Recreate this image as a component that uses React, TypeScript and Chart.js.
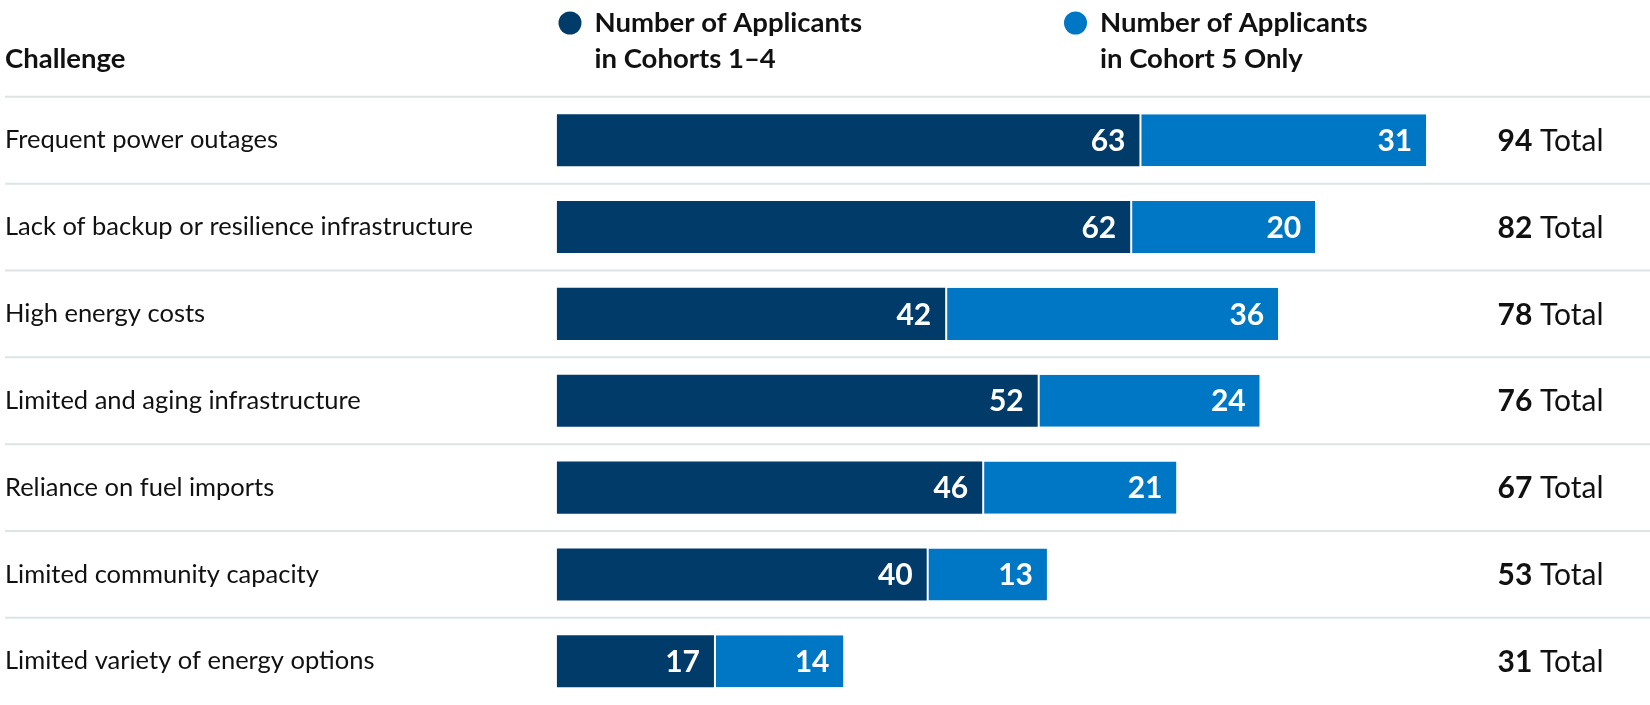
import { useEffect, useRef } from 'react';
import { Chart, registerables } from 'chart.js';
Chart.register(...registerables);

const challenges = [
  'Frequent power outages',
  'Lack of backup or resilience infrastructure',
  'High energy costs',
  'Limited and aging infrastructure',
  'Reliance on fuel imports',
  'Limited community capacity',
  'Limited variety of energy options',
];
const cohorts14 = [63, 62, 42, 52, 46, 40, 17];
const cohort5 = [31, 20, 36, 24, 21, 13, 14];
const legendCohorts14 = ['Number of Applicants', 'in Cohorts 1–4'];
const legendCohort5 = ['Number of Applicants', 'in Cohort 5 Only'];
const headerText = 'Challenge';
const totalWord = 'Total';

const DARK = '#003b6a';
const LIGHT = '#0077c4';
const TEXT = '#111111';
const FONT = 'Lato';

const W = 1650;
const H = 720;

export default function App() {
  const ref = useRef<HTMLCanvasElement | null>(null);
  useEffect(() => {
    if (!ref.current) return;
    const overlay = {
      id: 'overlay',
      beforeDatasetsDraw(chart: any) {
        const ctx = chart.ctx;
        const y = chart.scales.y;
        const band = Math.abs(y.getPixelForValue(1) - y.getPixelForValue(0));
        ctx.save();
        ctx.strokeStyle = '#dfe3e6';
        ctx.lineWidth = 2;
        for (let i = 0; i < challenges.length; i++) {
          const yy = y.getPixelForValue(i) - band / 2;
          ctx.beginPath();
          ctx.moveTo(5, yy);
          ctx.lineTo(W, yy);
          ctx.stroke();
        }
        // header
        ctx.fillStyle = TEXT;
        ctx.textBaseline = 'middle';
        ctx.textAlign = 'left';
        ctx.font = `bold 27.5px ${FONT}`;
        ctx.fillText(headerText, 5, 59);
        // legend
        const items = [
          { c: DARK, x: 570, lines: legendCohorts14 },
          { c: LIGHT, x: 1075.5, lines: legendCohort5 },
        ];
        items.forEach((it) => {
          ctx.fillStyle = it.c;
          ctx.beginPath();
          ctx.arc(it.x, 23, 11.5, 0, Math.PI * 2);
          ctx.fill();
          ctx.fillStyle = TEXT;
          ctx.fillText(it.lines[0], it.x + 24.5, 23);
          ctx.fillText(it.lines[1], it.x + 24.5, 59);
        });
        ctx.restore();
      },
      afterDatasetsDraw(chart: any) {
        const ctx = chart.ctx;
        ctx.save();
        ctx.textBaseline = 'middle';
        ctx.textAlign = 'right';
        ctx.fillStyle = '#ffffff';
        ctx.font = `bold 30px ${FONT}`;
        chart.data.datasets.forEach((ds: any, di: number) => {
          const meta = chart.getDatasetMeta(di);
          meta.data.forEach((bar: any, i: number) => {
            ctx.fillText(String(ds.data[i]), bar.x - 14, bar.y + 1);
          });
        });
        // totals
        const y = chart.scales.y;
        ctx.textAlign = 'left';
        ctx.fillStyle = TEXT;
        for (let i = 0; i < challenges.length; i++) {
          const total = cohorts14[i] + cohort5[i];
          const py = y.getPixelForValue(i) + 1;
          ctx.font = `bold 30px ${FONT}`;
          const t = String(total);
          ctx.fillText(t, 1497.5, py);
          const w = ctx.measureText(t).width;
          ctx.font = `30px ${FONT}`;
          ctx.fillText(' ' + totalWord, 1497.5 + w, py);
        }
        ctx.restore();
      },
    };
    const chart = new Chart(ref.current, {
      type: 'bar',
      data: {
        labels: challenges,
        datasets: [
          {
            label: legendCohorts14.join(' '),
            data: cohorts14,
            backgroundColor: DARK,
            borderWidth: 0,
            categoryPercentage: 1,
            barPercentage: 0.6,
          },
          {
            label: legendCohort5.join(' '),
            data: cohort5,
            backgroundColor: LIGHT,
            borderColor: '#ffffff',
            borderWidth: { left: 2, top: 0, right: 0, bottom: 0 },
            borderSkipped: false,
            categoryPercentage: 1,
            barPercentage: 0.6,
          },
        ],
      },
      options: {
        indexAxis: 'y',
        animation: false,
        responsive: false,
        maintainAspectRatio: false,
        layout: { padding: { left: 5, top: 96.8, right: W - 1481.7, bottom: H - 708.6 } },
        plugins: { legend: { display: false }, tooltip: { enabled: false } },
        scales: {
          x: { stacked: true, display: false, min: 0, max: 100 },
          y: {
            stacked: true,
            grid: { display: false },
            border: { display: false },
            ticks: {
              crossAlign: 'far',
              color: TEXT,
              font: { family: FONT, size: 25.5 },
              padding: 0,
            },
            afterFit(scale: any) {
              scale.width = 551.7;
            },
          },
        },
      },
      plugins: [overlay],
    } as any);
    return () => chart.destroy();
  }, []);
  return (
    <div style={{ position: 'absolute', left: 0, top: 0, width: W, height: 705, overflow: 'hidden', background: '#fff' }}>
      <canvas ref={ref} width={W} height={H} style={{ width: W, height: H, display: 'block' }} />
    </div>
  );
}
